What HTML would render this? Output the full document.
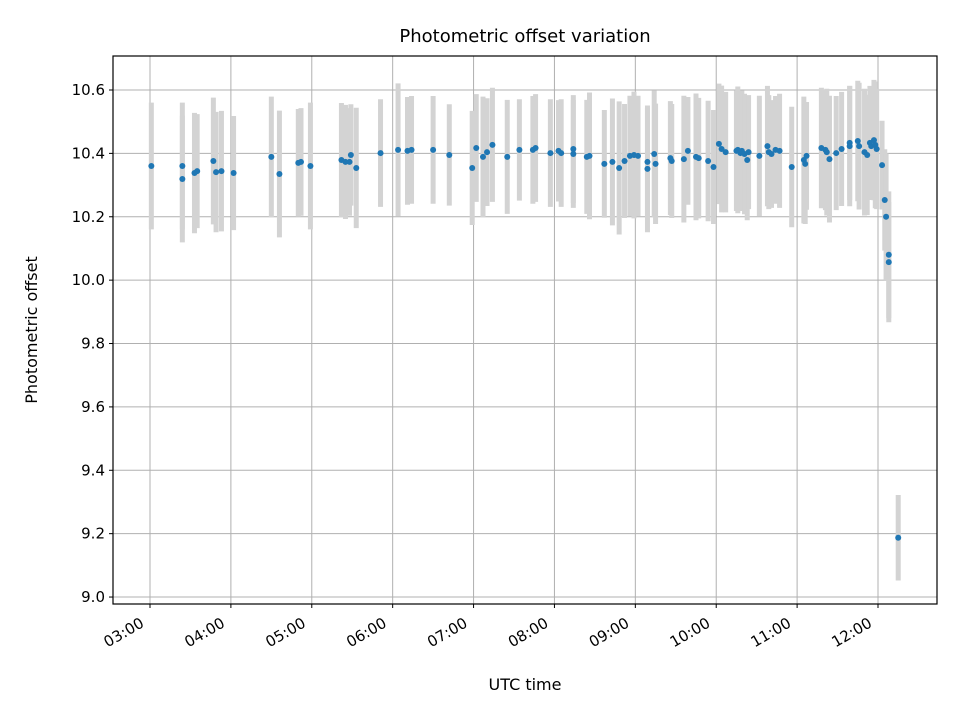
<!DOCTYPE html>
<html><head><meta charset="utf-8"><style>
body{margin:0;background:#fff}
svg text{font-family:"DejaVu Sans","Liberation Sans",sans-serif;fill:#000}
</style></head><body>
<svg id="chart" width="960" height="720" xmlns="http://www.w3.org/2000/svg">
<rect width="960" height="720" fill="#fff"/>
<g id="grid"></g><g id="bars"></g><g id="dots"></g><g id="axes"></g>
</svg>
<script>
const times=["03:01","03:24","03:24","03:33","03:35","03:47","03:49","03:53","04:02","04:30","04:36","04:50","04:52","04:59","05:22","05:25","05:28","05:29","05:33","05:51","06:04","06:11","06:14","06:30","06:42","06:59","07:02","07:07","07:10","07:14","07:25","07:34","07:44","07:46","07:57","08:03","08:05","08:14","08:14","08:24","08:26","08:37","08:43","08:48","08:52","08:56","08:59","09:02","09:09","09:09","09:14","09:15","09:26","09:27","09:36","09:39","09:45","09:47","09:54","09:58","10:02","10:04","10:07","10:15","10:16","10:18","10:19","10:21","10:23","10:24","10:32","10:38","10:39","10:41","10:44","10:47","10:56","11:05","11:06","11:07","11:18","11:21","11:22","11:24","11:29","11:33","11:39","11:39","11:45","11:46","11:50","11:52","11:54","11:55","11:57","11:58","11:59","12:03","12:05","12:06","12:08","12:08","12:15"];
const offsets=[10.360,10.360,10.319,10.338,10.344,10.376,10.341,10.344,10.338,10.389,10.335,10.370,10.373,10.360,10.379,10.373,10.373,10.395,10.354,10.401,10.411,10.408,10.411,10.411,10.395,10.354,10.417,10.389,10.404,10.427,10.389,10.411,10.411,10.417,10.401,10.408,10.401,10.414,10.398,10.389,10.392,10.367,10.373,10.354,10.376,10.392,10.395,10.392,10.351,10.373,10.398,10.367,10.385,10.376,10.382,10.408,10.389,10.385,10.376,10.357,10.430,10.414,10.404,10.408,10.411,10.401,10.408,10.398,10.379,10.404,10.392,10.423,10.404,10.398,10.411,10.408,10.357,10.379,10.367,10.392,10.417,10.411,10.404,10.382,10.401,10.414,10.433,10.423,10.439,10.423,10.404,10.395,10.433,10.423,10.442,10.427,10.414,10.363,10.253,10.200,10.080,10.057,9.187];
const errors=[0.20,0.20,0.20,0.19,0.18,0.20,0.19,0.19,0.18,0.19,0.20,0.17,0.17,0.20,0.18,0.18,0.17,0.16,0.19,0.17,0.21,0.17,0.17,0.17,0.16,0.18,0.17,0.19,0.17,0.18,0.18,0.16,0.17,0.17,0.17,0.16,0.17,0.17,0.17,0.18,0.20,0.17,0.20,0.21,0.18,0.19,0.20,0.19,0.20,0.17,0.20,0.19,0.18,0.18,0.20,0.17,0.20,0.19,0.19,0.18,0.19,0.20,0.19,0.19,0.20,0.18,0.19,0.19,0.19,0.18,0.19,0.19,0.18,0.17,0.17,0.18,0.19,0.20,0.19,0.17,0.19,0.19,0.20,0.20,0.18,0.18,0.18,0.19,0.19,0.20,0.20,0.19,0.18,0.17,0.19,0.20,0.19,0.14,0.16,0.20,0.20,0.19,0.135];
const yTicks=[9.0,9.2,9.4,9.6,9.8,10.0,10.2,10.4,10.6];
const xTicks=["03:00","04:00","05:00","06:00","07:00","08:00","09:00","10:00","11:00","12:00"];

const L=113,R=937,T=56,B=604;
function mins(s){const p=s.split(":");return +p[0]*60+ +p[1];}
function xs(m){return 150+(m-180)*(728/540);}
function ys(v){return 90+(10.6-v)*316.9;}
const NS="http://www.w3.org/2000/svg";
function mk(tag,attrs,parent){const e=document.createElementNS(NS,tag);for(const k in attrs)e.setAttribute(k,attrs[k]);parent.appendChild(e);return e;}
const grid=document.getElementById('grid'),bars=document.getElementById('bars'),dots=document.getElementById('dots'),axes=document.getElementById('axes');

yTicks.forEach(v=>{const y=ys(v);
 const g=mk('line',{x1:L,x2:R,y1:y,y2:y,stroke:'#b0b0b0','stroke-width':1},grid);
 
 
 mk('line',{x1:L-4,x2:L,y1:y,y2:y,stroke:'#000','stroke-width':1},axes);
 const t=mk('text',{x:L-8,y:y+5,'text-anchor':'end','font-size':'15'},axes);
 t.textContent=v.toFixed(1);
 
 
});
xTicks.forEach(s=>{const x=xs(mins(s));
 const g=mk('line',{x1:x,x2:x,y1:T,y2:B,stroke:'#b0b0b0','stroke-width':1},grid);
 
 
 mk('line',{x1:x,x2:x,y1:B,y2:B+4,stroke:'#000','stroke-width':1},axes);
 const tx=x-5,ty=B+22;
 const t=mk('text',{x:tx,y:ty,'text-anchor':'end','font-size':'15',transform:`rotate(-30 ${tx} ${ty})`},axes);
 t.textContent=s;
 
 
});
times.forEach((s,i)=>{const x=xs(mins(s)),v=offsets[i],e=errors[i];
 const b=mk('line',{x1:x,x2:x,y1:ys(v+e),y2:ys(v-e),stroke:'#d3d3d3','stroke-width':5},bars);
 
 
});
times.forEach((s,i)=>{
 const c=mk('circle',{cx:xs(mins(s)),cy:ys(offsets[i]),r:3,fill:'#1f77b4'},dots);
 
 
});
const fr=mk('rect',{x:L,y:T,width:R-L,height:B-T,fill:'none',stroke:'#000','stroke-width':1.2},axes);


const ti=mk('text',{x:525,y:42,'text-anchor':'middle','font-size':'18'},axes);
ti.textContent='Photometric offset variation';


const xl=mk('text',{x:525,y:690,'text-anchor':'middle','font-size':'16'},axes);
xl.textContent='UTC time';


const yl=mk('text',{x:37,y:330,'text-anchor':'middle','font-size':'16',transform:'rotate(-90 37 330)'},axes);
yl.textContent='Photometric offset';


</script>
</body></html>
